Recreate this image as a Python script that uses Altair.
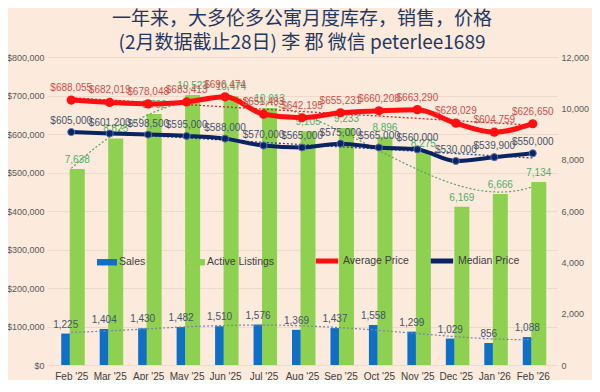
import json
import altair as alt
import pandas as pd

months = ["Feb '25", "Mar '25", "Apr '25", "May '25", "Jun '25", "Jul '25", "Aug '25",
          "Sep '25", "Oct '25", "Nov '25", "Dec '25", "Jan '26", "Feb '26"]
sales = [1225, 1404, 1430, 1482, 1510, 1576, 1369, 1437, 1558, 1299, 1029, 856, 1088]
active_listings = [7638, 8825, 9782, 10523, 10474, 10013, 9105, 9233, 8896, 8275, 6169, 6666, 7134]
average_price = [688055, 682019, 678048, 683413, 696474, 651483, 642195, 655231, 660208,
                 663290, 628029, 604759, 626650]
median_price = [605000, 601200, 598500, 595000, 588000, 570000, 565000, 575000, 565000,
                560000, 530000, 539900, 550000]
left_ticks = list(range(0, 800001, 100000))
right_ticks = list(range(0, 12001, 2000))

BG = "#FCEADC"
BLUE = "#0F6FC6"
GREEN = "#8ED04F"
RED = "#FF1010"
NAVY = "#0A2463"
FONT = "Liberation Sans"

idx = list(range(len(months)))
counts = pd.DataFrame({"i": idx, "sales": sales, "listings": active_listings})
avg_df = pd.DataFrame({"i": idx, "value": average_price, "series": "Average Price"})
med_df = pd.DataFrame({"i": idx, "value": median_price, "series": "Median Price"})

x_enc = alt.X("i:Q", scale=alt.Scale(domain=[-0.5, len(months) - 0.5], nice=False, zero=False),
              axis=alt.Axis(values=idx, labelExpr=json.dumps(months) + "[datum.value]",
                            title=None, grid=False, ticks=False, domain=False,
                            labelFontSize=10, labelColor="#404040", labelPadding=6,
                            labelFont=FONT))

right_axis = alt.Axis(orient="right", values=right_ticks, format=",.0f", title=None,
                      grid=False, ticks=False, domain=False, labelFontSize=9,
                      labelColor="#595959", labelPadding=4, labelFont=FONT)
left_axis = alt.Axis(orient="left", values=left_ticks, format="$,.0f", title=None,
                     grid=True, gridColor="#EED9CB", gridWidth=1, ticks=False, domain=False,
                     labelFontSize=9, labelColor="#595959", labelPadding=3, labelFont=FONT)

y_sales = alt.Y("sales:Q", scale=alt.Scale(domain=[0, 12000], nice=False), axis=right_axis)
y_list = alt.Y("listings:Q", scale=alt.Scale(domain=[0, 12000], nice=False), axis=right_axis)
y_price = alt.Y("value:Q", scale=alt.Scale(domain=[0, 800000], nice=False), axis=left_axis)

bar_color = alt.Color("series:N",
                      scale=alt.Scale(domain=["Sales", "Active Listings"], range=[BLUE, GREEN]),
                      legend=alt.Legend(orient="none", legendX=50, legendY=195,
                                        direction="horizontal", title=None,
                                        symbolType="M-1,-0.32H1V0.32H-1Z", symbolSize=400,
                                        symbolStrokeWidth=0, labelFontSize=10.5,
                                        labelColor="#404040", labelFont=FONT,
                                        labelOffset=2, columnPadding=39))

base_c = alt.Chart(counts)
sales_bar = base_c.transform_calculate(series="'Sales'").mark_bar(
    width=9, xOffset=-5.5, color=BLUE).encode(x=x_enc, y=y_sales, color=bar_color)
list_bar = base_c.transform_calculate(series="'Active Listings'").mark_bar(
    width=15, xOffset=6, color=GREEN).encode(x=x_enc, y=y_list, color=bar_color)
sales_lbl = base_c.mark_text(dy=-9, xOffset=-5.5, fontSize=10, color="#44546A", font=FONT).encode(
    x=x_enc, y=y_sales, text=alt.Text("sales:Q", format=",.0f"))
list_lbl = base_c.mark_text(dy=-9, xOffset=6, fontSize=10, color="#4FAE6A", font=FONT).encode(
    x=x_enc, y=y_list, text=alt.Text("listings:Q", format=",.0f"))
sales_trend = base_c.transform_regression("i", "sales", method="poly", order=4).mark_line(
    strokeDash=[2, 2], strokeWidth=1.2, color="#7A86A0").encode(x=x_enc, y=y_sales)
list_trend = base_c.transform_regression("i", "listings", method="poly", order=4).mark_line(
    strokeDash=[2, 2], strokeWidth=1.2, color="#5FA05F").encode(x=x_enc, y=y_list)

right_layer = alt.layer(sales_bar, list_bar, sales_trend, list_trend, sales_lbl, list_lbl)

line_stroke = alt.Stroke("series:N",
                         scale=alt.Scale(domain=["Average Price", "Median Price"], range=[RED, NAVY]),
                         legend=alt.Legend(orient="none", legendX=266, legendY=190,
                                           direction="horizontal", title=None,
                                           symbolType="stroke", symbolSize=500,
                                           symbolStrokeWidth=5, labelFontSize=10.5,
                                           labelColor="#404040", labelFont=FONT,
                                           labelOffset=2, columnPadding=11))

avg_c = alt.Chart(avg_df)
med_c = alt.Chart(med_df)
avg_trend = avg_c.transform_regression("i", "value", method="linear").mark_line(
    strokeDash=[2, 2], strokeWidth=1.3, color="#C03030").encode(x=x_enc, y=y_price)
med_trend = med_c.transform_regression("i", "value", method="linear").mark_line(
    strokeDash=[2, 2], strokeWidth=1.3, color="#2C4A8A").encode(x=x_enc, y=y_price)
avg_line = avg_c.mark_line(strokeWidth=5, interpolate="monotone").encode(
    x=x_enc, y=y_price, stroke=line_stroke)
med_line = med_c.mark_line(strokeWidth=4, interpolate="monotone").encode(
    x=x_enc, y=y_price, stroke=line_stroke)
avg_pt = avg_c.mark_circle(size=85, opacity=1, color=RED).encode(x=x_enc, y=y_price)
med_pt = med_c.mark_point(size=50, filled=True, opacity=1, color=NAVY, stroke="#5A73A8",
                          strokeWidth=1).encode(x=x_enc, y=y_price)
avg_lbl = avg_c.mark_text(dy=-12, fontSize=10, color="#C9504B", font=FONT).encode(
    x=x_enc, y=y_price, text=alt.Text("value:Q", format="$,.0f"))
med_lbl = med_c.mark_text(dy=-11, fontSize=10, color="#44546A", font=FONT).encode(
    x=x_enc, y=y_price, text=alt.Text("value:Q", format="$,.0f"))

left_layer = alt.layer(avg_trend, med_trend, avg_line, med_line, avg_pt, med_pt, avg_lbl, med_lbl)

chart = alt.layer(right_layer, left_layer).resolve_scale(
    y="independent", color="independent"
).properties(
    width=510, height=308,
    autosize=alt.AutoSizeParams(type="none"),
    padding={"left": 39, "top": 49, "right": 35, "bottom": 15},
    background=BG,
    title=alt.TitleParams(
        text=["一年来，大多伦多公寓月度库存，销售，价格", "(2月数据截止28日) 李 郡 微信 peterlee1689"],
        font="Noto Sans CJK SC", fontSize=19, fontWeight="normal", color="#1F3864",
        anchor="middle", lineHeight=24, offset=0),
).configure_view(stroke=None)

chart.save("out.html", embed_options={"renderer": "svg", "actions": False})
